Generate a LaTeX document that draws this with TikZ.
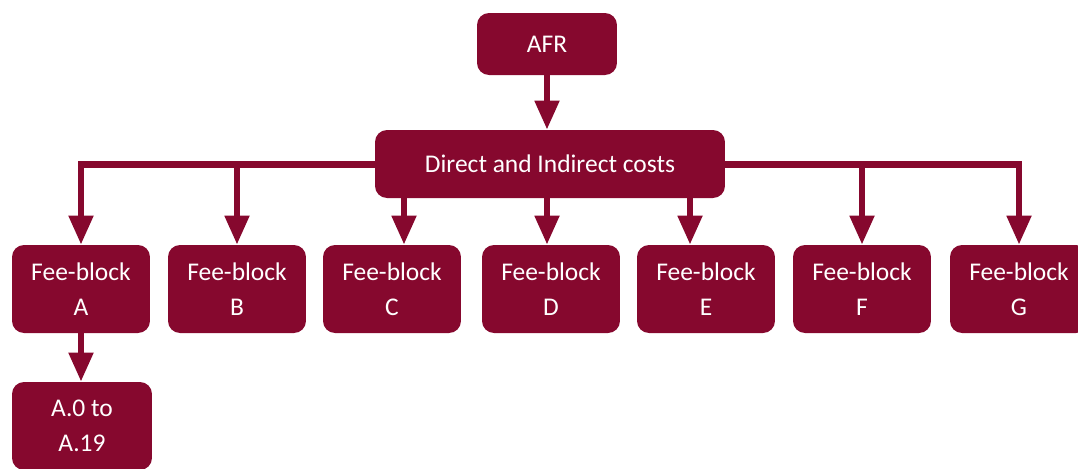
\documentclass[tikz,border=0pt]{standalone}
\usepackage{fontspec}
\setmainfont{Carlito}
\usetikzlibrary{arrows.meta}

\definecolor{afrred}{RGB}{134,8,46}

\begin{document}
\begin{tikzpicture}[x=0.02cm,y=-0.02cm,
  box/.style={fill=afrred,rounded corners=0.24cm,text=white,align=center,
    font=\fontsize{14.5}{20}\selectfont,inner sep=0pt},
  feebox/.style={box,minimum width=2.76cm,minimum height=1.76cm},
  link/.style={draw=afrred,line width=3.6pt,-{Triangle[width=0.47cm,length=0.58cm]}}]

\useasboundingbox (0,0) rectangle (1078,468);

% bus behind the cost box
\draw [afrred,line width=3.6pt] (81,165) -- (1020,165);

\node[box,minimum width=2.8cm,minimum height=1.24cm] (afr) at (547,44) {AFR};
\node[box,minimum width=7cm,minimum height=1.36cm] (costs) at (550,164) {Direct and Indirect costs};

\node[feebox] (feeA) at (81,289) {Fee-block\\A};
\node[feebox] (feeB) at (237,289) {Fee-block\\B};
\node[feebox] (feeC) at (392,289) {Fee-block\\C};
\node[feebox] (feeD) at (551,289) {Fee-block\\D};
\node[feebox] (feeE) at (706,289) {Fee-block\\E};
\node[feebox] (feeF) at (862,289) {Fee-block\\F};
\node[feebox] (feeG) at (1019,289) {Fee-block\\G};

\node[feebox,minimum width=2.8cm] (subA) at (82,426) {A.0 to\\A.19};

\draw [link] (afr.south) -- (afr.south |- costs.north);

\draw [link] (costs.west) -| (feeA.north);
\draw [link] (costs.east) -| (feeG.north);
\draw [link] (costs.west -| feeB.north) -- (feeB.north);
\draw [link] (costs.east -| feeF.north) -- (feeF.north);

\draw [link] ([xshift=0.24cm]feeC.north |- costs.south) -- ([xshift=0.24cm]feeC.north);
\draw [link] ([xshift=-0.08cm]feeD.north |- costs.south) -- ([xshift=-0.08cm]feeD.north);
\draw [link] ([xshift=-0.32cm]feeE.north |- costs.south) -- ([xshift=-0.32cm]feeE.north);

\draw [link] (feeA.south) -- (feeA.south |- subA.north);

\end{tikzpicture}
\end{document}
